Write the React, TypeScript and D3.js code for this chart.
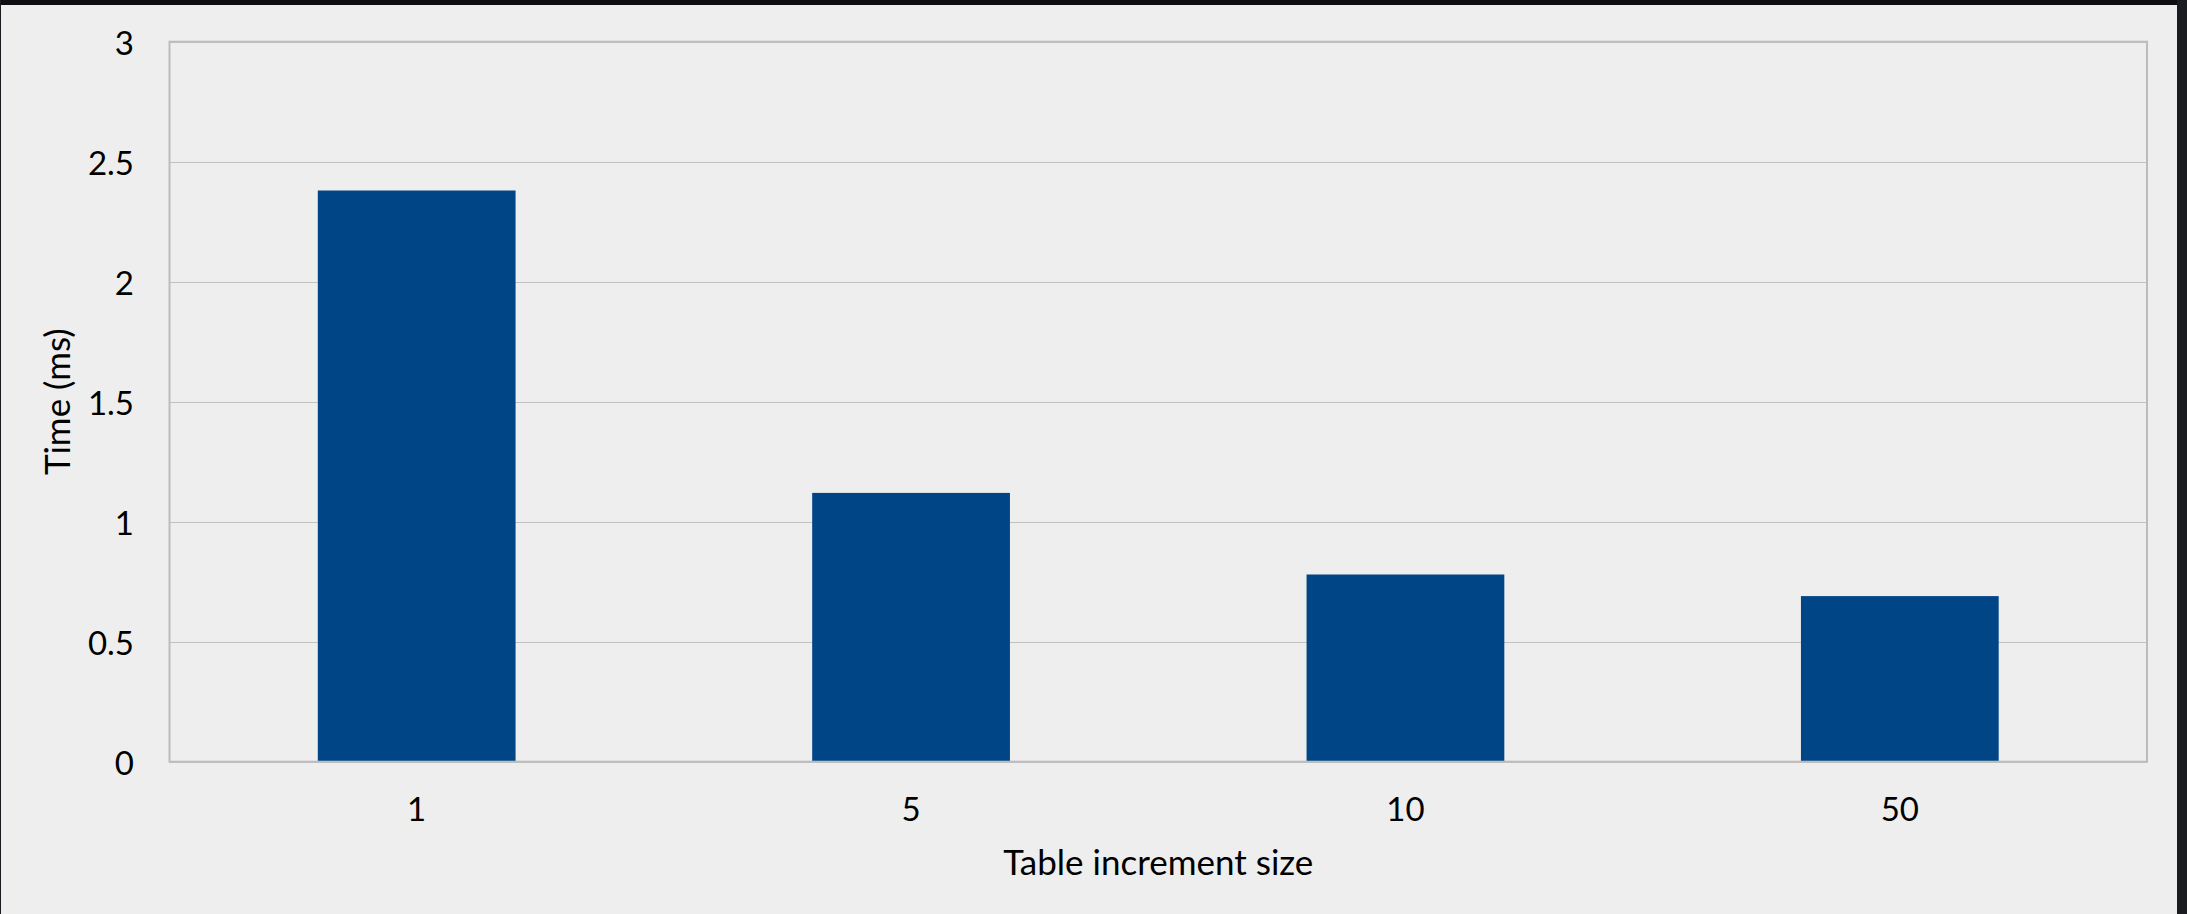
import React from "react";
import * as d3 from "d3";

// Benchmark: lookup time per table increment size
const categories: string[] = ["1", "5", "10", "50"];
const timesMs: number[] = [2.38, 1.12, 0.78, 0.69];
const yTicks: number[] = [0, 0.5, 1, 1.5, 2, 2.5, 3];
const yTickLabels: string[] = ["0", "0.5", "1", "1.5", "2", "2.5", "3"];

const W = 2187;
const H = 914;
const plot = { left: 169.5, right: 2147, top: 41.7, bottom: 761.7 };
const FONT = "Lato, 'Open Sans', sans-serif";
const FS = 33;
const TITLE_FS = 35;

export default function App() {
  const x = d3
    .scaleBand<string>()
    .domain(categories)
    .range([plot.left, plot.right])
    .paddingInner(0.6)
    .paddingOuter(0.3);
  const y = d3.scaleLinear().domain([0, 3]).range([plot.bottom, plot.top]);

  return (
    <svg
      width={W}
      height={H}
      style={{ position: "absolute", left: 0, top: 0, display: "block" }}
    >
      <rect x={0} y={0} width={W} height={H} fill="#eeeeee" />
      {/* window frame edges */}
      <rect x={0} y={0} width={W} height={5} fill="#0e0e12" />
      <rect x={0} y={0} width={1} height={H} fill="#1a1a20" />
      <rect x={2177} y={0} width={10} height={H} fill="#1b1b22" />

      {/* gridlines */}
      {yTicks.map((t) => (
        <line
          key={"g" + t}
          x1={plot.left}
          x2={plot.right}
          y1={Math.round(y(t)) + 0.5}
          y2={Math.round(y(t)) + 0.5}
          stroke="#c2c2c2"
          strokeWidth={1}
        />
      ))}

      {/* bars */}
      {categories.map((c, i) => (
        <rect
          key={c}
          x={x(c)}
          y={y(timesMs[i])}
          width={x.bandwidth()}
          height={y(0) - y(timesMs[i])}
          fill="#004586"
        />
      ))}

      {/* plot frame */}
      <rect
        x={plot.left}
        y={plot.top}
        width={plot.right - plot.left}
        height={plot.bottom - plot.top}
        fill="none"
        stroke="#bcbcbc"
        strokeWidth={2}
      />

      {/* y tick labels */}
      {yTicks.map((t, i) => (
        <text
          key={"yl" + t}
          x={134}
          y={y(t)}
          textAnchor="end"
          dominantBaseline="central"
          fontFamily={FONT}
          fontSize={FS}
          fill="#000"
        >
          {yTickLabels[i]}
        </text>
      ))}

      {/* x tick labels */}
      {categories.map((c) => (
        <text
          key={"xl" + c}
          x={(x(c) as number) + x.bandwidth() / 2}
          y={821}
          textAnchor="middle"
          fontFamily={FONT}
          fontSize={FS}
          fill="#000"
        >
          {c}
        </text>
      ))}

      {/* axis titles */}
      <text
        x={(plot.left + plot.right) / 2}
        y={875}
        textAnchor="middle"
        fontFamily={FONT}
        fontSize={TITLE_FS}
        fill="#000"
      >
        Table increment size
      </text>
      <text
        transform={`translate(70, ${(plot.top + plot.bottom) / 2}) rotate(-90)`}
        textAnchor="middle"
        fontFamily={FONT}
        fontSize={TITLE_FS}
        fill="#000"
      >
        Time (ms)
      </text>
    </svg>
  );
}
